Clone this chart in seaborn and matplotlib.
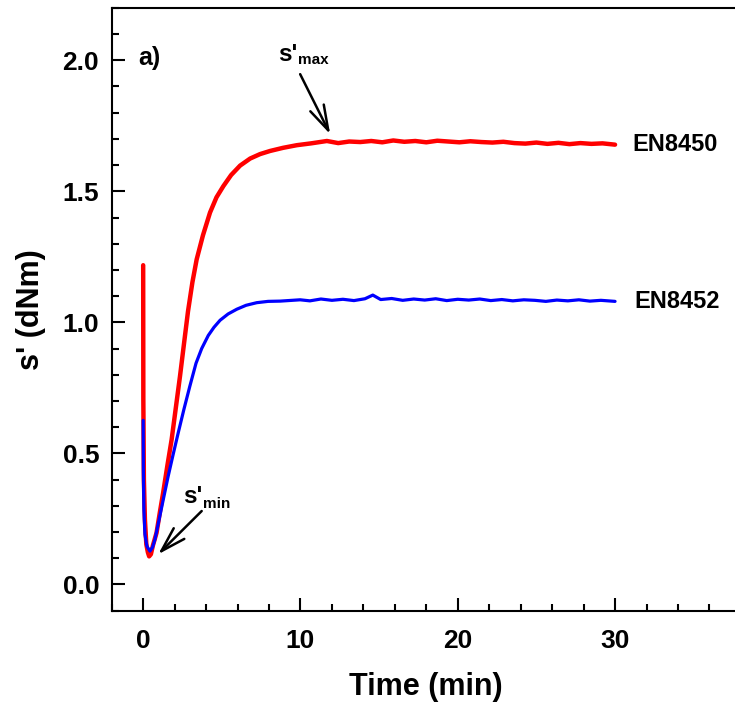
import matplotlib
matplotlib.use("Agg")
import matplotlib.pyplot as plt
import pandas as pd
import seaborn as sns
from matplotlib.ticker import MultipleLocator

# Rheometer torque s' (dNm) versus cure time (min) for two compounds
time_en8450 = [0.0, 0.01, 0.045, 0.11, 0.2, 0.3, 0.38, 0.49, 0.62, 0.85,
               1.06, 1.27, 1.54, 1.81, 2.08, 2.34, 2.59, 2.85, 3.13, 3.4,
               3.8, 4.25, 4.66, 5.1, 5.59, 6.16, 6.8, 7.43, 8.07, 8.9,
               9.77, 10.68, 11.68, 12.4, 13.1, 13.8, 14.5, 15.2, 15.9, 16.6,
               17.3, 18.0, 18.7, 19.4, 20.1, 20.8, 21.5, 22.2, 22.9, 23.6,
               24.3, 25.0, 25.7, 26.4, 27.1, 27.8, 28.5, 29.2, 30.0]
torque_en8450 = [1.218, 0.706, 0.40, 0.248, 0.153, 0.122, 0.107, 0.115, 0.149, 0.197,
                 0.275, 0.35, 0.454, 0.553, 0.676, 0.794, 0.916, 1.042, 1.153, 1.240,
                 1.332, 1.419, 1.477, 1.520, 1.562, 1.598, 1.625, 1.642, 1.654, 1.666,
                 1.676, 1.683, 1.692, 1.684, 1.690, 1.688, 1.692, 1.687, 1.694, 1.689,
                 1.692, 1.687, 1.693, 1.690, 1.687, 1.691, 1.688, 1.686, 1.689, 1.684,
                 1.682, 1.686, 1.681, 1.685, 1.680, 1.684, 1.681, 1.683, 1.678]

time_en8452 = [0.0, 0.01, 0.045, 0.11, 0.24, 0.43, 0.59, 0.75, 1.06, 1.32,
               1.59, 1.89, 2.23, 2.59, 2.97, 3.36, 3.72, 4.14, 4.5, 4.89,
               5.4, 5.95, 6.54, 7.22, 7.94, 8.71, 9.98, 10.6, 11.3, 12.0,
               12.7, 13.4, 14.1, 14.6, 15.1, 15.8, 16.5, 17.2, 17.9, 18.6,
               19.3, 20.0, 20.7, 21.4, 22.1, 22.8, 23.5, 24.2, 24.9, 25.6,
               26.3, 27.0, 27.7, 28.4, 29.1, 30.0]
torque_en8452 = [0.626, 0.44, 0.286, 0.191, 0.145, 0.127, 0.141, 0.172, 0.261, 0.336,
                 0.413, 0.492, 0.579, 0.668, 0.757, 0.844, 0.900, 0.950, 0.981, 1.008,
                 1.032, 1.050, 1.065, 1.075, 1.080, 1.081, 1.086, 1.082, 1.089, 1.084,
                 1.088, 1.083, 1.090, 1.104, 1.087, 1.091, 1.084, 1.089, 1.085, 1.090,
                 1.083, 1.088, 1.085, 1.089, 1.083, 1.087, 1.082, 1.086, 1.084, 1.080,
                 1.085, 1.082, 1.086, 1.081, 1.084, 1.080]

series_names = ["EN8450", "EN8452"]
series_colors = ["#ff0000", "#0000ff"]
x_ticks = [0, 10, 20, 30]
y_ticks = [0.0, 0.5, 1.0, 1.5, 2.0]

sns.set_theme(style="white")
plt.rcParams["font.family"] = ["Liberation Sans", "DejaVu Sans"]
plt.rcParams["font.weight"] = "bold"
plt.rcParams["axes.labelweight"] = "bold"
for key in ["text.color", "axes.labelcolor", "xtick.color", "ytick.color",
            "axes.edgecolor"]:
    plt.rcParams[key] = "black"

fig = plt.figure(figsize=(7.35, 7.15), dpi=100)
ax = fig.add_axes([0.152, 0.146, 0.856, 0.843])

df_a = pd.DataFrame({"time": time_en8450, "torque": torque_en8450})
df_b = pd.DataFrame({"time": time_en8452, "torque": torque_en8452})
sns.lineplot(data=df_a, x="time", y="torque", ax=ax, color=series_colors[0],
             lw=3.2, sort=False, estimator=None)
sns.lineplot(data=df_b, x="time", y="torque", ax=ax, color=series_colors[1],
             lw=2.3, sort=False, estimator=None)

ax.set_xlim(-2, 38)
ax.set_ylim(-0.1, 2.2)
ax.set_xticks(x_ticks)
ax.set_xticklabels([str(v) for v in x_ticks])
ax.set_yticks(y_ticks)
ax.set_yticklabels([f"{v:.1f}" for v in y_ticks])
ax.xaxis.set_minor_locator(MultipleLocator(2))
ax.yaxis.set_minor_locator(MultipleLocator(0.1))
ax.tick_params(which="both", direction="in", color="black", width=1.5,
               top=False, right=False, bottom=True, left=True)
ax.tick_params(which="major", length=9.4)
ax.tick_params(which="minor", length=5)
ax.tick_params(axis="x", which="major", labelsize=19, pad=13, labelcolor="black")
ax.tick_params(axis="y", which="major", labelsize=19, pad=9, labelcolor="black")
for lab in ax.get_xticklabels() + ax.get_yticklabels():
    lab.set_fontweight("bold")
for sp in ax.spines.values():
    sp.set_color("black")
    sp.set_linewidth(1.5)

ax.set_xlabel("Time (min)", fontsize=22, fontweight="bold", labelpad=14,
              color="black")
ax.set_ylabel("s' (dNm)", fontsize=22, fontweight="bold", labelpad=12,
              color="black")

# Series labels at the curve ends
ax.text(31.1, torque_en8450[-1], series_names[0], fontsize=17,
        fontweight="bold", va="center", ha="left", color="black")
ax.text(31.2, torque_en8452[-1], series_names[1], fontsize=17,
        fontweight="bold", va="center", ha="left", color="black")

ax.text(-0.34, 1.981, "a)", fontsize=18, fontweight="bold", va="baseline",
        color="black")

arrow = dict(arrowstyle="->, head_length=1.0, head_width=0.3", lw=1.8,
             color="black", shrinkA=0, shrinkB=0, mutation_scale=18)
ax.annotate("", xy=(11.89, 1.718), xytext=(9.98, 1.947), arrowprops=arrow)
ax.text(8.59, 1.996, "s'", fontsize=17.5, fontweight="bold", va="baseline",
        color="black")
ax.text(9.85, 1.985, "max", fontsize=11, fontweight="bold", va="baseline",
        color="black")

ax.annotate("", xy=(0.955, 0.115), xytext=(3.72, 0.280), arrowprops=arrow)
ax.text(2.55, 0.312, "s'", fontsize=17.5, fontweight="bold", va="baseline",
        color="black")
ax.text(3.82, 0.293, "min", fontsize=11, fontweight="bold", va="baseline",
        color="black")

fig.savefig("out.png", dpi=100)
